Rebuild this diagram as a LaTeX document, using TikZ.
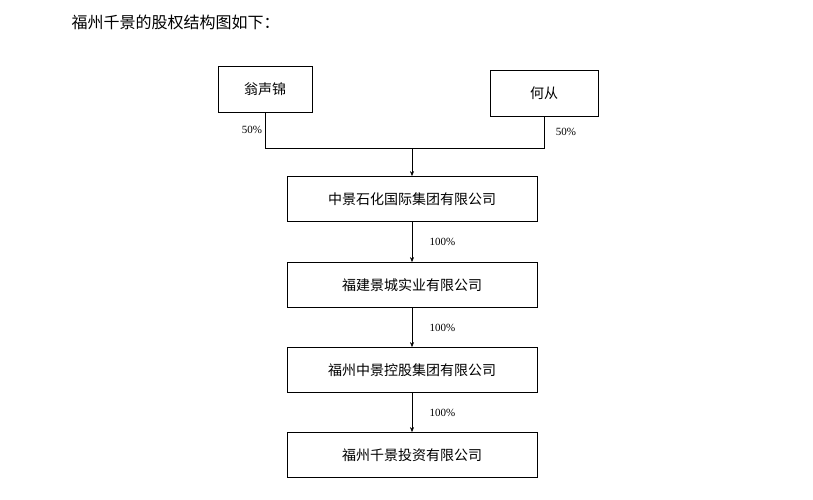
\documentclass[tikz,border=0pt]{standalone}
\usepackage{fontspec}
\newfontfamily\cjk{Noto Sans CJK SC}
\setmainfont{Liberation Serif}
\usetikzlibrary{positioning,arrows.meta}

\begin{document}
\begin{tikzpicture}[x=1pt, y=-1pt, >={Stealth[length=5pt,width=4pt]},
    holder/.style={draw, thick, minimum width=94pt, minimum height=46pt, font=\cjk\fontsize{14}{16}\selectfont},
    company/.style={draw, thick, minimum width=250pt, minimum height=45pt, font=\cjk\fontsize{14}{16}\selectfont},
    share/.style={font=\fontsize{11}{13}\selectfont}]

    \useasboundingbox (0,0) rectangle (813,500);

    % title
    \node[anchor=west, font=\cjk\fontsize{16}{18}\selectfont] (title) at (68,22) {福州千景的股权结构图如下：};

    % shareholders
    \node[holder] (weng) at (265,89) {翁声锦};
    \node[holder, minimum width=108pt] (he) at (544,93) {何从};

    % companies
    \node[company] (zjsh) at (412,199) {中景石化国际集团有限公司};
    \node[company] (fjjc) at (412,285) {福建景城实业有限公司};
    \node[company] (fzkg) at (412,370) {福州中景控股集团有限公司};
    \node[company] (fzqj) at (412,455) {福州千景投资有限公司};

    % joint line
    \coordinate (join) at (412,148);
    \draw (weng.south) |- (join);
    \draw (he.south) |- (join);
    \draw[->] (join) -- (zjsh.north);
    \node[share] (pweng) at (252,130) {50\%};
    \node[share] (phe) at (566,132) {50\%};

    % chain
    \draw[->] (zjsh) -- (fjjc) node[midway, right=14pt, share] {100\%};
    \draw[->] (fjjc) -- (fzkg) node[midway, right=14pt, share] {100\%};
    \draw[->] (fzkg) -- (fzqj) node[midway, right=14pt, share] {100\%};

\end{tikzpicture}
\end{document}
